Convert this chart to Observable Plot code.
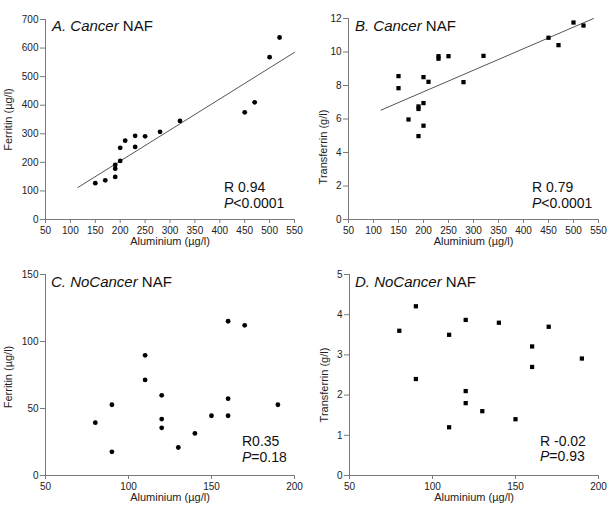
<!DOCTYPE html>
<html>
<head>
<meta charset="utf-8">
<script src="https://cdn.jsdelivr.net/npm/d3@7"></script>
<script src="https://cdn.jsdelivr.net/npm/@observablehq/plot@0.6"></script>
<style>
  body { margin: 0; background: #fff; }
  #grid { display: grid; grid-template-columns: 305px 305px; grid-template-rows: 256px 257px; width: 610px; }
  #grid svg { display: block; }
</style>
</head>
<body>
<div id="grid"></div>
<script>
// A. Cancer NAF – ferritin against aluminium
const aluminiumA = [150, 170, 190, 190, 190, 200, 200, 210, 230, 230, 250, 280, 320, 450, 470, 500, 520];
const ferritinA  = [127, 137, 149, 178, 191, 205, 251, 276, 293, 254, 291, 307, 345, 375, 410, 568, 637];
const fitAX = [115, 550];
const fitAY = [112, 585];

// B. Cancer NAF – transferrin against aluminium
const aluminiumB   = [150, 150, 170, 190, 190, 190, 200, 200, 200, 210, 230, 230, 250, 280, 320, 450, 470, 500, 520];
const transferrinB = [8.56, 7.84, 5.97, 4.98, 6.6, 6.75, 5.6, 6.95, 8.5, 8.22, 9.75, 9.6, 9.75, 8.2, 9.77, 10.85, 10.41, 11.76, 11.58];
const fitBX = [115, 540];
const fitBY = [6.53, 12.0];

// C. NoCancer NAF – ferritin against aluminium
const aluminiumC = [80, 90, 90, 110, 110, 120, 120, 120, 130, 140, 150, 160, 160, 160, 170, 190];
const ferritinC  = [39.4, 52.8, 17.7, 89.7, 71.3, 59.8, 42.1, 35.6, 20.9, 31.4, 44.6, 115.1, 57.3, 44.6, 112.1, 52.8];

// D. NoCancer NAF – transferrin against aluminium
const aluminiumD   = [80, 90, 90, 110, 110, 120, 120, 120, 130, 140, 150, 160, 160, 170, 190];
const transferrinD = [3.6, 4.21, 2.4, 3.5, 1.2, 3.87, 2.1, 1.8, 1.6, 3.8, 1.4, 3.21, 2.7, 3.7, 2.91];

// Axis ticks
const ticksCancerX = [50, 100, 150, 200, 250, 300, 350, 400, 450, 500, 550];
const ticksNoCancerX = [50, 100, 150, 200];
const ticksFerritinA = [0, 100, 200, 300, 400, 500, 600, 700];
const ticksTransferrinB = [0, 2, 4, 6, 8, 10, 12];
const ticksFerritinC = [0, 50, 100, 150];
const ticksTransferrinD = [0, 1, 2, 3, 4, 5];

// Labels
const xTitle = "Aluminium (µg/l)";
const ferritinTitle = "Ferritin (µg/l)";
const transferrinTitle = "Transferrin (g/l)";

// Mixed italic / upright text placed relative to the top-left of the frame
function richText(lines, {dx, dy, lineHeight = 15.5, fontSize = 14}) {
  return (index, scales, values, dims) => {
    const g = d3.create("svg:g")
      .attr("font-size", fontSize)
      .attr("fill", "#111")
      .attr("text-anchor", "start");
    lines.forEach((parts, i) => {
      const t = g.append("text")
        .attr("x", dims.marginLeft + dx)
        .attr("y", dims.marginTop + dy + i * lineHeight);
      for (const [str, italic] of parts) {
        t.append("tspan").attr("font-style", italic ? "italic" : null).text(str);
      }
    });
    return g.node();
  };
}

const plainNumber = (d) => String(d);

function panel(cfg) {
  const pts = cfg.xs.map((x, i) => ({x, y: cfg.ys[i]}));
  const marks = [
    Plot.ruleX([cfg.xDomain[0]], {stroke: "#7a7a7a", strokeWidth: 1}),
    Plot.ruleY([cfg.yDomain[0]], {stroke: "#7a7a7a", strokeWidth: 1}),
    Plot.axisX({ticks: cfg.xTicks, tickFormat: plainNumber, tickSize: 4, tickPadding: 3, stroke: "#7a7a7a", label: null}),
    Plot.axisY({ticks: cfg.yTicks, tickFormat: plainNumber, tickSize: 5, tickPadding: 2, stroke: "#7a7a7a", label: null}),
    Plot.text([xTitle], {frameAnchor: "bottom", lineAnchor: "bottom", dy: 25, fontSize: 11, fill: "#222"}),
    Plot.text([cfg.yTitle], {frameAnchor: "left", rotate: -90, textAnchor: "middle", lineAnchor: "middle",
      dx: cfg.yTitleDx, dy: cfg.yTitleDy, fontSize: 11, fill: "#222"})
  ];
  if (cfg.fitX) {
    const fit = cfg.fitX.map((x, i) => ({x, y: cfg.fitY[i]}));
    marks.push(Plot.line(fit, {x: "x", y: "y", stroke: "#555", strokeWidth: 1}));
  }
  marks.push(Plot.dot(pts, {x: "x", y: "y", symbol: cfg.symbol, r: 2.4, fill: "#000", stroke: "none"}));
  marks.push(richText(cfg.title, cfg.titlePos));
  marks.push(richText(cfg.stats, cfg.statsPos));

  return Plot.plot({
    width: 305,
    height: cfg.height,
    marginLeft: cfg.margins[0],
    marginRight: cfg.margins[1],
    marginTop: cfg.margins[2],
    marginBottom: cfg.margins[3],
    style: {fontFamily: "'Liberation Sans', Arial, Helvetica, sans-serif", fontSize: "10px", color: "#222", background: "#fff"},
    x: {domain: cfg.xDomain, nice: false},
    y: {domain: cfg.yDomain, nice: false},
    marks
  });
}

const grid = document.getElementById("grid");

grid.append(panel({
  xs: aluminiumA, ys: ferritinA, symbol: "circle", fitX: fitAX, fitY: fitAY,
  xDomain: [50, 550], yDomain: [0, 700], xTicks: ticksCancerX, yTicks: ticksFerritinA,
  yTitle: ferritinTitle, yTitleDx: -37, yTitleDy: 0,
  height: 256, margins: [45, 11, 19, 37],
  title: [[["A. Cancer", true], [" NAF", false]]], titlePos: {dx: 7, dy: 12, fontSize: 15},
  stats: [[["R 0.94", false]], [["P", true], ["<0.0001", false]]], statsPos: {dx: 179, dy: 173}
}));

grid.append(panel({
  xs: aluminiumB, ys: transferrinB, symbol: "square", fitX: fitBX, fitY: fitBY,
  xDomain: [50, 550], yDomain: [0, 12], xTicks: ticksCancerX, yTicks: ticksTransferrinB,
  yTitle: transferrinTitle, yTitleDx: -25, yTitleDy: 28,
  height: 256, margins: [43, 12, 18, 37],
  title: [[["B. Cancer", true], [" NAF", false]]], titlePos: {dx: 7, dy: 13, fontSize: 15},
  stats: [[["R 0.79", false]], [["P", true], ["<0.0001", false]]], statsPos: {dx: 184, dy: 174}
}));

grid.append(panel({
  xs: aluminiumC, ys: ferritinC, symbol: "circle",
  xDomain: [50, 200], yDomain: [0, 150], xTicks: ticksNoCancerX, yTicks: ticksFerritinC,
  yTitle: ferritinTitle, yTitleDx: -37, yTitleDy: 2,
  height: 257, margins: [45, 11, 18, 38],
  title: [[["C. NoCancer", true], [" NAF", false]]], titlePos: {dx: 6, dy: 12.5, fontSize: 15},
  stats: [[["R0.35", false]], [["P", true], ["=0.18", false]]], statsPos: {dx: 197, dy: 172}
}));

grid.append(panel({
  xs: aluminiumD, ys: transferrinD, symbol: "square",
  xDomain: [50, 200], yDomain: [0, 5], xTicks: ticksNoCancerX, yTicks: ticksTransferrinD,
  yTitle: transferrinTitle, yTitleDx: -25, yTitleDy: 10,
  height: 257, margins: [44, 12, 18, 38],
  title: [[["D. NoCancer", true], [" NAF", false]]], titlePos: {dx: 6, dy: 12.5, fontSize: 15},
  stats: [[["R -0.02", false]], [["P", true], ["=0.93", false]]], statsPos: {dx: 191, dy: 171.5}
}));
</script>
</body>
</html>
